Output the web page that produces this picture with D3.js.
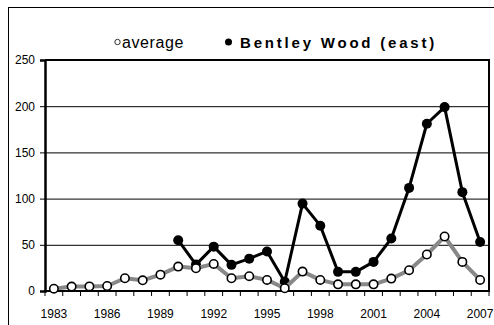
<!DOCTYPE html>
<html><head><meta charset="utf-8">
<script src="https://cdn.jsdelivr.net/npm/d3@7"></script>
<style>body{margin:0;background:#fff}svg{display:block;font-family:Arial,"Liberation Sans",sans-serif}</style>
</head><body><svg id="c" width="494" height="325"></svg>
<script>
const years = d3.range(1983, 2008);
const averageValues = [2.5,4.8,5,5.4,13.8,11.6,17.7,26.4,24.6,29.3,13.8,16,12,3,21,12,7.2,7.2,7.2,13.4,22.5,39.5,59,31.5,12];
const bentleyYears = d3.range(1990, 2008);
const bentleyValues = [55,28.6,48,28.3,35,42.8,10,94.6,70.7,20.7,20.7,31.5,56.8,111.6,181,199,107,53];
const yTicks = [0,50,100,150,200,250];
const xTickLabels = [1983,1986,1989,1992,1995,1998,2001,2004,2007];

const svg = d3.select("#c");
const L = 45, R = 489, T = 60, B = 291;
const x = d3.scaleBand().domain(years).range([L, R]).padding(0);
const y = d3.scaleLinear().domain([0, 250]).range([B, T]);
const cx = d => x(d) + x.bandwidth()/2;

// outer frame
svg.append("rect").attr("x",8.5).attr("y",7.5).attr("width",520).attr("height",340)
  .attr("fill","none").attr("stroke","#000").attr("stroke-width",1);

// gridlines
svg.append("g").selectAll("line").data([50,100,150,200]).join("line")
  .attr("x1",L).attr("x2",R).attr("y1",d=>y(d)+0.5).attr("y2",d=>y(d)+0.5)
  .attr("stroke","#000").attr("stroke-width",1);
// top & right border
svg.append("line").attr("x1",L).attr("x2",R+1).attr("y1",T).attr("y2",T).attr("stroke","#000").attr("stroke-width",2);
svg.append("line").attr("x1",R).attr("x2",R).attr("y1",T).attr("y2",B).attr("stroke","#000").attr("stroke-width",2);

// y axis
const yAxis = d3.axisLeft(y).tickValues(yTicks).tickSize(5).tickPadding(5);
const gy = svg.append("g").attr("transform",`translate(${L},0)`).call(yAxis);
gy.select(".domain").attr("stroke-width",2.5);
gy.selectAll(".tick line").attr("stroke-width",1);
gy.selectAll("text").attr("font-size",12).attr("fill","#000").attr("font-family","Arial, 'Liberation Sans', sans-serif");

// x axis
const xAxis = d3.axisBottom(x).tickSize(0).tickValues(xTickLabels).tickPadding(0);
const gx = svg.append("g").attr("transform",`translate(0,${B})`).call(xAxis);
gx.select(".domain").remove();
gx.selectAll("text").attr("font-size",12).attr("fill","#000").attr("dy",null).attr("y",27)
  .attr("font-family","Arial, 'Liberation Sans', sans-serif");
svg.append("line").attr("x1",L-1).attr("x2",R+1).attr("y1",B).attr("y2",B).attr("stroke","#000").attr("stroke-width",2);
svg.append("g").selectAll("line").data(years.concat([2008])).join("line")
  .attr("x1",d=>d===2008?R:x(d)).attr("x2",d=>d===2008?R:x(d)).attr("y1",B).attr("y2",B+5)
  .attr("stroke","#000").attr("stroke-width",1);

// Bentley series
const bData = bentleyYears.map((yr,i)=>({yr, v:bentleyValues[i]}));
svg.append("path").datum(bData)
  .attr("d", d3.line().x(d=>cx(d.yr)).y(d=>y(d.v)))
  .attr("fill","none").attr("stroke","#000").attr("stroke-width",3).attr("stroke-linejoin","round");
svg.append("g").selectAll("circle").data(bData).join("circle")
  .attr("cx",d=>cx(d.yr)).attr("cy",d=>y(d.v)).attr("r",5).attr("fill","#000");

// average series
const aData = years.map((yr,i)=>({yr, v:averageValues[i]}));
svg.append("path").datum(aData)
  .attr("d", d3.line().x(d=>cx(d.yr)).y(d=>y(d.v)))
  .attr("fill","none").attr("stroke","#888").attr("stroke-width",4).attr("stroke-linejoin","round");
svg.append("g").selectAll("circle").data(aData).join("circle")
  .attr("cx",d=>cx(d.yr)).attr("cy",d=>y(d.v)).attr("r",4.2).attr("fill","#fff")
  .attr("stroke","#000").attr("stroke-width",1.6);

// legend
svg.append("circle").attr("cx",117.5).attr("cy",42).attr("r",2.7).attr("fill","none").attr("stroke","#000").attr("stroke-width",0.8);
svg.append("text").attr("x",122).attr("y",47.5).attr("font-size",16).attr("letter-spacing",0.6).text("average");
svg.append("circle").attr("cx",228.5).attr("cy",42).attr("r",3.5).attr("fill","#000");
svg.append("text").attr("x",240).attr("y",47.5).attr("font-size",15).attr("font-weight","bold").attr("letter-spacing",2.8).text("Bentley Wood (east)");
</script></body></html>
